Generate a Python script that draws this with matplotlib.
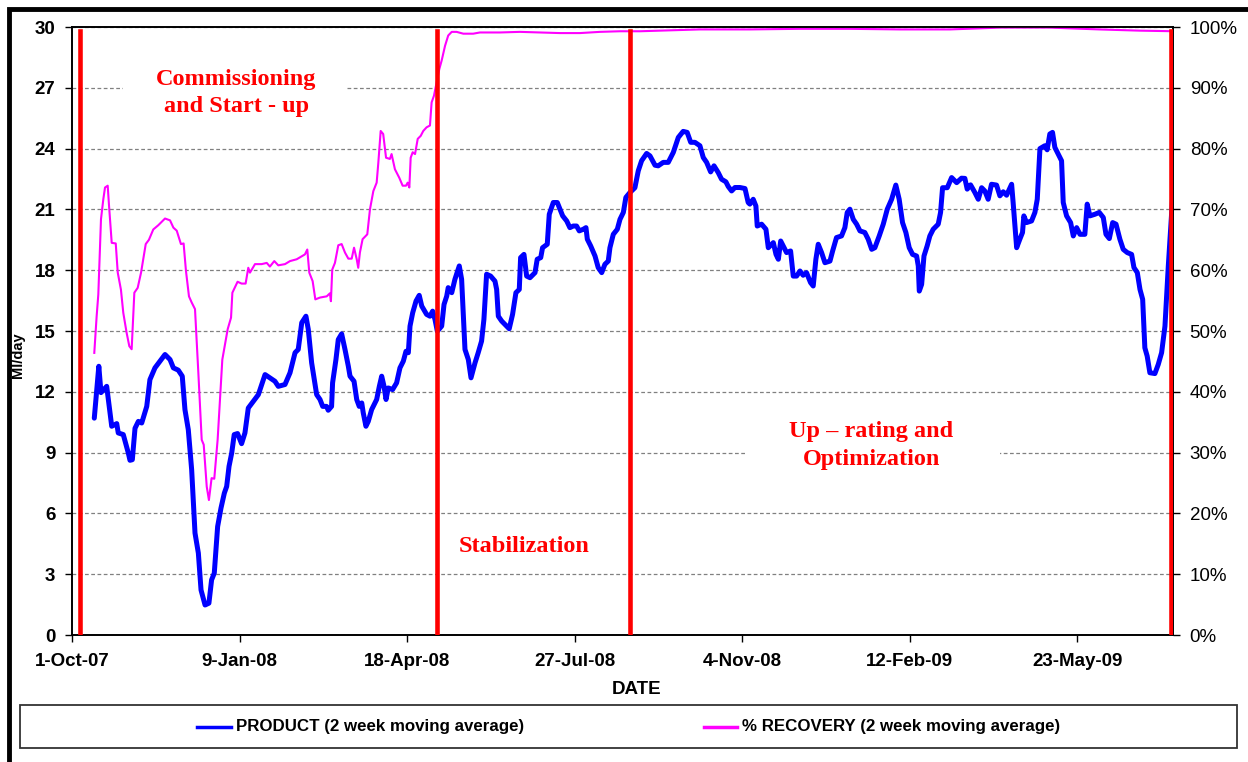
import matplotlib
matplotlib.use("Agg")
import matplotlib.pyplot as plt
from matplotlib.patches import Rectangle
from matplotlib.lines import Line2D
import pandas as pd

plt.rcParams['font.family'] = ['Liberation Sans', 'DejaVu Sans']

START = "2007-10-01"

# PRODUCT (2 week moving average), Ml/day -- day offsets from START
prod_day = [
    13.3, 16, 17.3, 20.7, 23.7, 26.7, 27.6, 30.6, 33.6, 34.6,
    36, 37.6, 39.6, 41.6, 44.6, 46.5, 49.5, 52.5, 55.5, 58.5,
    60.5, 63.4, 65.8, 67.4, 69.4, 71.4, 73.4, 75.4, 77, 79.4,
    81.7, 83.3, 84.9, 86.9, 88.9, 90.9, 92.3, 93.7, 95.3, 96.8,
    98.8, 101.2, 103.2, 105.2, 108.2, 111.2, 115.2, 118.1, 121.1, 123.1,
    127.1, 130.1, 133.1, 135, 137.1, 139.6, 141, 143, 146, 148,
    149.6, 151.9, 152.9, 154.9, 155.5, 157.5, 158.9, 160.9, 162.9, 164.9,
    165.9, 168.3, 169.9, 171.4, 172.9, 173.8, 175.4, 176.8, 178.8, 181.8,
    183.4, 184.8, 186.2, 187.4, 188.7, 191.3, 193.7, 195.7, 197.7, 199.3,
    200.7, 201.7, 203.3, 205.3, 207.2, 208.7, 211.6, 213.6, 215.2, 216.6,
    218, 220.6, 222, 223.6, 224.5, 226.6, 228.5, 231.1, 232.5, 234.5,
    236.5, 238.1, 240.5, 242.4, 244.4, 245.8, 247.4, 249.8, 252.4, 253.4,
    254.4, 256.4, 258.4, 260.9, 262.9, 264.9, 266.9, 267.7, 269.7, 271.3,
    273.3, 276.3, 277.6, 279.7, 280.8, 283.6, 284.8, 287.2, 289.6, 291.2,
    292.8, 295.2, 297.1, 299.1, 301.1, 302.7, 305.1, 306.7, 307.5, 309.5,
    312.1, 314, 316.1, 318, 320, 321, 323, 325.4, 327, 329,
    330.5, 332.9, 335.9, 337.9, 339.9, 342.9, 344.9, 347.9, 349.8, 352.8,
    355.8, 358.8, 361.8, 364.7, 367.1, 369.2, 371.7, 374.7, 376.7, 378.7,
    381.1, 383.1, 385.6, 387.6, 390.2, 391.6, 393.6, 395.6, 398.6, 401.6,
    403.5, 404.5, 406.5, 408.1, 408.9, 411.5, 414.1, 415.5, 418.5, 420.1,
    421.5, 422.9, 424.4, 426.4, 428.8, 430.4, 432.4, 434.4, 436.3, 438.3,
    440.7, 442.3, 443.9, 445.3, 447.3, 449.3, 452.3, 453.9, 456.2, 459.2,
    461.2, 462.6, 464.2, 466.2, 468.2, 470.2, 473.1, 475.1, 477.2, 479.1,
    481.7, 484.1, 486.5, 489.1, 491.6, 493.6, 495.6, 497.6, 499.6, 501.6,
    504, 505, 505.6, 507, 508.4, 510.3, 511.9, 513.9, 516.9, 518.3,
    519.5, 522.3, 524.9, 527.9, 530.8, 532.8, 534.2, 536.2, 538.8, 540.8,
    542.8, 544.7, 546.7, 548.7, 551.7, 553.7, 555.7, 557.7, 560.7, 561.6,
    563.7, 565.6, 567.2, 568, 569.6, 572.6, 574.6, 576, 577.6, 580.5,
    581.9, 583.5, 585.1, 586.5, 588.5, 590.5, 591.5, 593.5, 595.9, 597.5,
    599.5, 601.5, 604.4, 605.8, 607.4, 610.4, 613, 615.4, 617, 619,
    621, 623, 625.3, 627.3, 629.7, 632.3, 633.7, 635.7, 637.3, 638.9,
    640.2, 641.6, 643.2, 646.2, 648.2, 650.2, 652.2, 654.2, 656.2, 658,
]
prod_val = [
    10.7, 13.26, 11.96, 12.27, 10.3, 10.43, 9.97, 9.89, 8.98, 8.62,
    8.65, 10.2, 10.54, 10.46, 11.28, 12.6, 13.18, 13.51, 13.84, 13.59,
    13.18, 13.07, 12.77, 11.12, 10.13, 8.16, 5.03, 4.04, 2.22, 1.48,
    1.57, 2.72, 3.05, 5.35, 6.26, 7.0, 7.33, 8.32, 8.98, 9.89,
    9.94, 9.44, 9.97, 11.2, 11.53, 11.86, 12.85, 12.69, 12.52, 12.27,
    12.36, 12.94, 13.93, 14.09, 15.41, 15.73, 15.08, 13.43, 11.86, 11.62,
    11.28, 11.28, 11.09, 11.28, 12.44, 13.59, 14.58, 14.86, 14.09, 13.26,
    12.77, 12.52, 11.62, 11.28, 11.45, 10.96, 10.3, 10.54, 11.12, 11.62,
    12.27, 12.77, 12.27, 11.62, 12.19, 12.11, 12.44, 13.18, 13.51, 14.0,
    13.93, 15.24, 15.9, 16.48, 16.76, 16.23, 15.82, 15.73, 15.98, 15.57,
    14.99, 15.24, 16.31, 16.72, 17.14, 16.89, 17.55, 18.21, 17.55, 14.09,
    13.59, 12.69, 13.43, 13.93, 14.5, 15.57, 17.8, 17.71, 17.46, 17.05,
    15.73, 15.49, 15.32, 15.11, 15.82, 16.89, 17.05, 18.62, 18.78, 17.71,
    17.63, 17.88, 18.54, 18.62, 19.11, 19.28, 20.76, 21.34, 21.34, 21.01,
    20.68, 20.43, 20.1, 20.18, 20.18, 19.94, 20.02, 20.1, 19.53, 19.2,
    18.7, 18.13, 17.88, 18.29, 18.45, 19.11, 19.77, 20.02, 20.51, 20.85,
    21.59, 21.83, 22.07, 22.9, 23.4, 23.76, 23.64, 23.18, 23.15, 23.32,
    23.32, 23.81, 24.55, 24.85, 24.8, 24.31, 24.31, 24.14, 23.56, 23.32,
    22.85, 23.15, 22.82, 22.49, 22.36, 22.13, 21.91, 22.08, 22.08, 22.03,
    21.34, 21.26, 21.5, 21.17, 20.18, 20.27, 20.02, 19.11, 19.36, 18.78,
    18.54, 19.44, 19.2, 18.87, 18.95, 17.71, 17.71, 17.96, 17.75, 17.88,
    17.39, 17.22, 18.54, 19.28, 18.87, 18.37, 18.45, 18.95, 19.61, 19.69,
    20.1, 20.85, 21.01, 20.51, 20.27, 19.94, 19.86, 19.53, 19.03, 19.11,
    19.69, 20.27, 21.01, 21.5, 22.2, 21.5, 20.35, 19.86, 19.11, 18.78,
    18.7, 18.21, 16.97, 17.3, 18.7, 19.2, 19.69, 20.02, 20.27, 20.85,
    22.07, 22.07, 22.57, 22.32, 22.54, 22.53, 22.0, 22.21, 21.83, 21.5,
    22.07, 21.91, 21.5, 22.24, 22.2, 21.67, 21.87, 21.7, 22.24, 21.34,
    19.11, 19.53, 19.86, 20.68, 20.35, 20.43, 20.85, 21.5, 24.0, 24.14,
    23.94, 24.72, 24.8, 24.06, 23.73, 23.4, 21.34, 20.68, 20.35, 19.69,
    20.1, 19.77, 19.77, 21.26, 20.68, 20.76, 20.85, 20.6, 19.77, 19.56,
    20.35, 20.27, 19.53, 19.03, 18.87, 18.78, 18.13, 17.88, 17.05, 16.56,
    14.17, 13.76, 12.94, 12.9, 13.35, 13.93, 15.24, 18.21, 20.85, 23.2,
]

# % RECOVERY (2 week moving average) -- day offsets from START
rec_day = [
    13.3, 14.7, 15.7, 17.3, 18.7, 19.7, 21.3, 22.1, 23.7, 26.1,
    27.3, 29.2, 30.6, 32.6, 34.2, 35.6, 37.2, 39.2, 41.2, 44,
    45.9, 48.5, 51.5, 55.5, 58.5, 60.5, 62.5, 65, 66.6, 68,
    69.8, 71.4, 73.4, 75.4, 77.4, 78.6, 80.4, 81.7, 83.3, 84.9,
    86.9, 89.7, 92.9, 94.9, 95.7, 98.8, 101.2, 103.6, 105.2, 106.2,
    109.2, 113.2, 116.2, 118.1, 120.7, 123.1, 127.1, 130.1, 134.1, 137.1,
    139, 140.4, 141.6, 143.6, 145.2, 148, 152, 153.9, 154.5, 155.3,
    156.9, 158.9, 160.9, 162.9, 164.9, 166.9, 168.3, 169.9, 170.8, 171.8,
    173.4, 176.2, 177.8, 179.8, 181.8, 182.8, 184.2, 185.7, 187.4, 189.7,
    190.7, 192.7, 195.3, 197.3, 199.3, 200.3, 201.3, 202.1, 203.3, 204.7,
    206.3, 208.1, 209.6, 211.6, 213.6, 214.6, 216, 217.6, 219.2, 220.6,
    222.6, 224.5, 226.6, 229.5, 233.5, 239.4, 243.4, 255.4, 267.3, 279.2,
    291.2, 303.1, 315, 327, 338.9, 350.8, 362.8, 374.7, 404.5, 434,
    464, 494, 524, 553.7, 583.5, 613, 637, 658,
]
rec_pct = [
    46.4, 52.4, 56.0, 68.4, 71.7, 73.6, 73.9, 70.6, 64.5, 64.4,
    59.6, 56.8, 53.0, 49.7, 47.5, 47.0, 56.3, 57.1, 59.6, 64.3,
    65.0, 66.7, 67.4, 68.5, 68.2, 67.0, 66.5, 64.3, 64.4, 59.9,
    55.7, 54.7, 53.6, 43.1, 32.1, 31.3, 24.4, 22.2, 25.8, 25.7,
    32.1, 45.3, 50.3, 52.2, 56.3, 58.1, 57.8, 57.8, 60.4, 59.6,
    61.0, 61.0, 61.2, 60.6, 61.5, 60.8, 61.0, 61.5, 61.8, 62.3,
    62.6, 63.4, 59.6, 58.2, 55.2, 55.5, 55.7, 56.2, 54.9, 60.1,
    61.2, 64.1, 64.3, 62.9, 61.9, 61.9, 63.7, 61.8, 60.4, 62.9,
    65.1, 65.9, 70.0, 73.0, 74.4, 77.7, 82.9, 82.4, 78.5, 78.3,
    79.1, 76.6, 75.2, 73.9, 73.9, 74.4, 73.6, 78.5, 79.4, 79.1,
    81.6, 82.1, 82.9, 83.5, 83.8, 87.6, 88.7, 90.9, 93.1, 94.5,
    96.9, 98.6, 99.2, 99.2, 98.9, 98.9, 99.1, 99.1, 99.2, 99.1,
    99.0, 99.0, 99.2, 99.3, 99.3, 99.4, 99.5, 99.6, 99.6, 99.7,
    99.7, 99.6, 99.6, 99.9, 99.9, 99.6, 99.4, 99.3,
]

# phase boundaries (red lines), phase labels
phase_dates = ["2007-10-06", "2008-05-06", "2008-08-29", "2009-07-18"]
phase_labels = ["Commissioning\nand Start - up", "Stabilization", "Up \u2013 rating and\nOptimization"]
phase_label_pos = [("2008-01-07", 26.75), ("2008-06-27", 4.35), ("2009-01-20", 9.35)]

tick_dates = ["2007-10-01", "2008-01-09", "2008-04-18", "2008-07-27",
              "2008-11-04", "2009-02-12", "2009-05-23"]
tick_labels = ["1-Oct-07", "9-Jan-08", "18-Apr-08", "27-Jul-08",
               "4-Nov-08", "12-Feb-09", "23-May-09"]
y_ticks = [0, 3, 6, 9, 12, 15, 18, 21, 24, 27, 30]
y2_ticks = [0, 10, 20, 30, 40, 50, 60, 70, 80, 90, 100]

series_names = ["PRODUCT (2 week moving average)", "% RECOVERY (2 week moving average)"]

base = pd.Timestamp(START)
px = (base + pd.to_timedelta(prod_day, unit="D")).to_numpy()
rx = (base + pd.to_timedelta(rec_day, unit="D")).to_numpy()

W, H = 1248, 762
fig = plt.figure(figsize=(W / 100, H / 100), dpi=100)
ax = fig.add_axes([72 / W, 1 - 635 / H, (1173 - 72) / W, (635 - 27) / H])
ax2 = ax.twinx()

ax.set_xlim(base, base + pd.Timedelta(days=657))
ax.set_ylim(0, 30)
ax2.set_ylim(0, 100)

ax.set_axisbelow(True)
ax.yaxis.grid(True, color="#808080", linestyle=(0, (3, 2)), linewidth=0.9)

# white text boxes hide the gridlines behind the labels
ax.add_patch(Rectangle((0.046, 0.84), 0.202, 0.12, transform=ax.transAxes,
                       facecolor="white", edgecolor="none", zorder=1))
ax.add_patch(Rectangle((0.611, 0.24), 0.232, 0.135, transform=ax.transAxes,
                       facecolor="white", edgecolor="none", zorder=1))

ax.plot(px, prod_val, color="#0000FF", linewidth=3.6, zorder=3,
        solid_joinstyle="round", solid_capstyle="round")
ax2.plot(rx, rec_pct, color="#FF00FF", linewidth=1.5, zorder=2)
for d in phase_dates:
    ax2.axvline(pd.Timestamp(d), ymin=0, ymax=29.8 / 30, color="#FF0000",
                linewidth=3.3, zorder=5)

for lab, (d, yv) in zip(phase_labels, phase_label_pos):
    ax.text(pd.Timestamp(d), yv, lab, color="#FF0000", fontsize=17.5,
            fontweight="bold", family="Liberation Serif", ha="center",
            va="center", linespacing=1.4, zorder=6)

ax.set_xticks([pd.Timestamp(d) for d in tick_dates])
ax.set_xticklabels(tick_labels)
ax.set_yticks(y_ticks)
ax2.set_yticks(y2_ticks)
ax2.set_yticklabels([f"{v}%" for v in y2_ticks])

for lbl in ax.get_xticklabels() + ax.get_yticklabels():
    lbl.set_fontweight("bold")
    lbl.set_fontsize(13.5)
for lbl in ax2.get_yticklabels():
    lbl.set_fontsize(13.5)

ax.tick_params(axis="x", direction="out", length=5, width=1, pad=8)
ax.tick_params(axis="y", direction="out", length=5, width=1, pad=7)
ax2.tick_params(axis="y", direction="out", length=5, width=1, pad=7)
for a in (ax, ax2):
    for s in a.spines.values():
        s.set_linewidth(1.2)

fig.text(18 / W, 1 - 355 / H, "Ml/day", rotation=90, ha="center", va="center",
         fontsize=10.5, fontweight="bold")
fig.text(637 / W, 1 - 690 / H, "DATE", ha="center", va="center",
         fontsize=13.5, fontweight="bold")

# legend box
fig.add_artist(Rectangle((20 / W, 1 - 748 / H), (1237 - 20) / W, (748 - 705) / H,
                         transform=fig.transFigure, facecolor="white",
                         edgecolor="#333333", linewidth=1.3))
ly = 1 - 727 / H
fig.add_artist(Line2D([197 / W, 231 / W], [ly, ly], transform=fig.transFigure,
                      color="#0000FF", linewidth=2.5))
fig.text(236 / W, ly, series_names[0], ha="left", va="center", fontsize=12.2,
         fontweight="bold")
fig.add_artist(Line2D([704 / W, 737 / W], [ly, ly], transform=fig.transFigure,
                      color="#FF00FF", linewidth=2.5))
fig.text(742 / W, ly, series_names[1], ha="left", va="center", fontsize=12.2,
         fontweight="bold")

# outer chart-area border (left and top visible)
fig.add_artist(Rectangle((9 / W, -0.05), 1.2, 1 - 9 / H + 0.05,
                         transform=fig.transFigure, facecolor="none",
                         edgecolor="black", linewidth=3.5))

fig.savefig("out.png", dpi=100)
